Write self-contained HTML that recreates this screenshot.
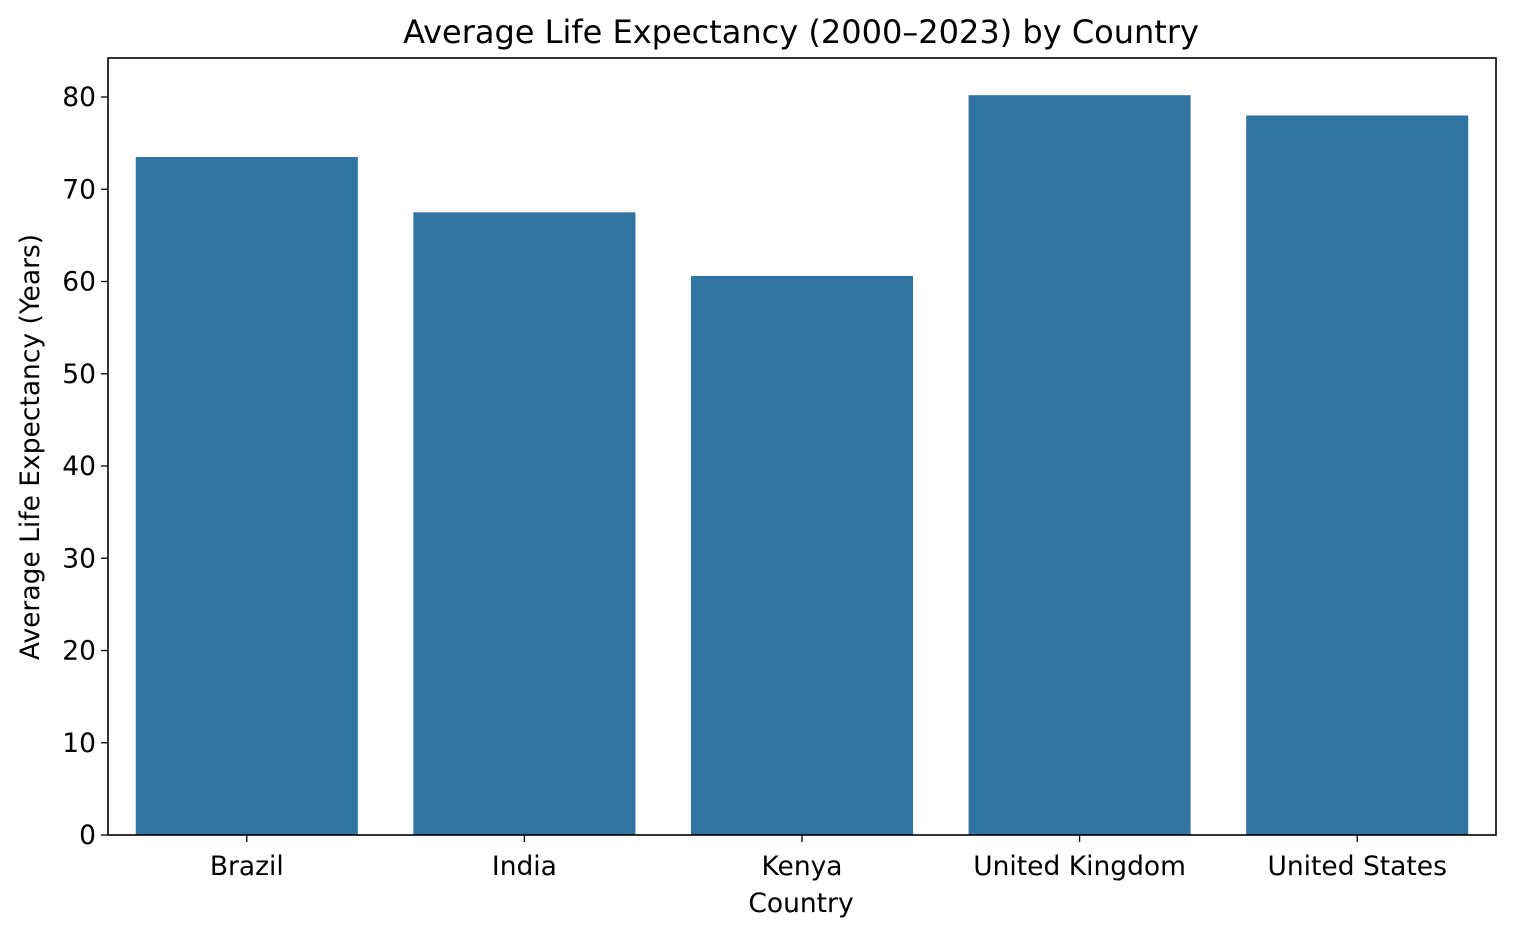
<!DOCTYPE html>
<html><head><meta charset="utf-8">
<style>
html,body{margin:0;padding:0;background:#fff;}
svg{display:block;font-family:"DejaVu Sans","Liberation Sans",sans-serif;}
</style></head>
<body>
<svg id="chart" width="1514" height="936">
<rect x="0" y="0" width="1514" height="936" fill="#fff"/>
<text x="801" y="43" text-anchor="middle" style="font-size:32px" fill="#000">Average Life Expectancy (2000–2023) by Country</text>
<g id="bars"></g>
<g id="yticks"></g>
<g id="xticks"></g>
<rect x="108" y="58" width="1388" height="777" fill="none" stroke="#000" stroke-width="1.6"/>
<text x="801" y="912" text-anchor="middle" style="font-size:26.5px">Country</text>
<text transform="translate(39,447) rotate(-90)" text-anchor="middle" style="font-size:26.5px">Average Life Expectancy (Years)</text>
</svg>
<script>
const categories = ["Brazil","India","Kenya","United Kingdom","United States"];
const values = [73.5, 67.5, 60.6, 80.2, 78.0];
const yTicks = [0,10,20,30,40,50,60,70,80];

const L=108,R=1496,T=58,B=835,YMAX=84.23;
const NS="http://www.w3.org/2000/svg";
function y(v){return B-(v/YMAX)*(B-T);}
const band=(R-L)/categories.length;
function xc(i){return L+band*(i+0.5);}
function mk(tag,attrs,parent){const e=document.createElementNS(NS,tag);for(const k in attrs)e.setAttribute(k,attrs[k]);parent.appendChild(e);return e;}

const gb=document.getElementById('bars');
categories.forEach((c,i)=>{
  const bw=band*0.8;
  const r=mk('rect',{x:xc(i)-bw/2,y:y(values[i]),width:bw,height:B-y(values[i]),fill:'#3274a1'},gb);
  
  
});
const gy=document.getElementById('yticks');
yTicks.forEach(t=>{
  const l=mk('line',{x1:L-7,x2:L,y1:y(t),y2:y(t),stroke:'#000','stroke-width':1.3},gy);
  
  
  const tx=mk('text',{x:L-12,y:y(t)+9,'text-anchor':'end',style:'font-size:26.5px'},gy);
  tx.textContent=t;
  
  
});
const gx=document.getElementById('xticks');
categories.forEach((c,i)=>{
  const l=mk('line',{x1:xc(i),x2:xc(i),y1:B,y2:B+7,stroke:'#000','stroke-width':1.3},gx);
  
  
  const tx=mk('text',{x:xc(i),y:B+40,'text-anchor':'middle',style:'font-size:26.5px'},gx);
  tx.textContent=c;
  
  
});
</script>
</body></html>
